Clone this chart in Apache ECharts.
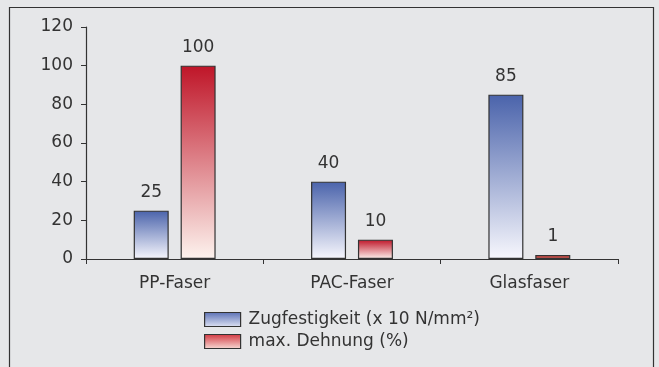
<!DOCTYPE html>
<html><head><meta charset="utf-8">
<script src="https://cdn.jsdelivr.net/npm/echarts@6/dist/echarts.min.js"></script>
<style>html,body{margin:0;padding:0;background:#e6e7e9;}#c{width:659px;height:367px;}</style>
</head><body><div id="c"></div>
<script>
var categories = ['PP-Faser', 'PAC-Faser', 'Glasfaser'];
var zugfestigkeit = [25, 40, 85];
var dehnung = [100, 10, 1];
var seriesNames = ['Zugfestigkeit (x 10 N/mm²)', 'max. Dehnung (%)'];
var yTicks = [0, 20, 40, 60, 80, 100, 120];

var font = '"DejaVu Sans", sans-serif';
var blueGrad = new echarts.graphic.LinearGradient(0, 0, 0, 1, [{offset: 0, color: '#4a63ab'}, {offset: 1, color: '#f7f7fd'}]);
var redGrad = new echarts.graphic.LinearGradient(0, 0, 0, 1, [{offset: 0, color: '#bf1528'}, {offset: 1, color: '#fdf3ee'}]);
var blueIcon = new echarts.graphic.LinearGradient(0, 0, 0, 1, [{offset: 0, color: '#5a70b4'}, {offset: 1, color: '#dfe3f4'}]);
var redIcon = new echarts.graphic.LinearGradient(0, 0, 0, 1, [{offset: 0, color: '#d2363f'}, {offset: 1, color: '#f8dcd6'}]);
var smallRed = new echarts.graphic.LinearGradient(0, 0, 0, 1, [{offset: 0, color: '#d6453f'}, {offset: 1, color: '#e0605a'}]);

var chart = echarts.init(document.getElementById('c'), null, {renderer: 'canvas'});
chart.setOption({
  backgroundColor: '#e6e7e9',
  animation: false,
  graphic: [{
    type: 'rect', shape: {x: 9.5, y: 7.5, width: 644, height: 380},
    style: {fill: 'none', stroke: '#333', lineWidth: 1.2}, silent: true
  }],
  grid: {left: 86, right: 41, top: 27, bottom: 108, containLabel: false},
  legend: {
    orient: 'vertical', left: 199, top: 305, itemWidth: 36, itemHeight: 14, itemGap: 3,
    icon: 'rect',
    textStyle: {fontFamily: font, fontSize: 17, lineHeight: 19, color: '#333', padding: [0, 0, 0, 3]},
    data: [
      {name: seriesNames[0], itemStyle: {color: blueIcon, borderColor: '#333', borderWidth: 1.2}},
      {name: seriesNames[1], itemStyle: {color: redIcon, borderColor: '#333', borderWidth: 1.2}}
    ]
  },
  xAxis: {
    type: 'category', data: categories,
    axisLine: {lineStyle: {color: '#333', width: 1.2}},
    axisTick: {show: true, length: 5, lineStyle: {color: '#333'}},
    axisLabel: {fontFamily: font, fontSize: 17, color: '#333', margin: 16}
  },
  yAxis: {
    type: 'value', min: 0, max: 120, interval: 20,
    axisLine: {show: true, lineStyle: {color: '#333', width: 1.2}},
    axisTick: {show: true, length: 5, lineStyle: {color: '#333'}},
    splitLine: {show: false},
    axisLabel: {fontFamily: font, fontSize: 17, color: '#333', margin: 13,
      formatter: function (v) { return yTicks.indexOf(v) >= 0 ? String(v) : ''; }}
  },
  series: [{
    name: seriesNames[0], type: 'bar', data: zugfestigkeit, barWidth: 35, barGap: '34%',
    itemStyle: {color: blueGrad, borderColor: '#333', borderWidth: 1.2},
    label: {show: true, position: 'top', distance: 10, fontFamily: font, fontSize: 17, color: '#333'}
  }, {
    name: seriesNames[1], type: 'bar', barWidth: 35, barMinHeight: 4,
    data: dehnung.map(function (v) { return v < 5 ? {value: v, itemStyle: {color: smallRed}} : v; }),
    itemStyle: {color: redGrad, borderColor: '#333', borderWidth: 1.2},
    label: {show: true, position: 'top', distance: 10, fontFamily: font, fontSize: 17, color: '#333'}
  }]
});
</script></body></html>
